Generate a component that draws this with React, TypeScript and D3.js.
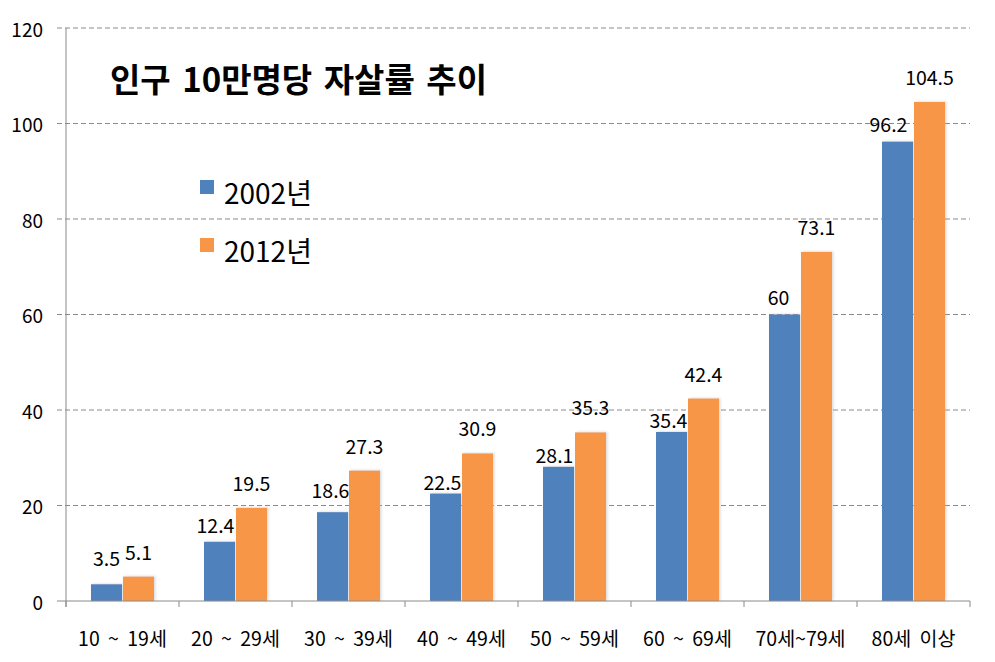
import React from "react";
import * as d3 from "d3";

const categories = ["10 ~ 19세", "20 ~ 29세", "30 ~ 39세", "40 ~ 49세", "50 ~ 59세", "60 ~ 69세", "70세~79세", "80세 이상"];
const series = ["2002년", "2012년"];
const values2002 = [3.5, 12.4, 18.6, 22.5, 28.1, 35.4, 60, 96.2];
const values2012 = [5.1, 19.5, 27.3, 30.9, 35.3, 42.4, 73.1, 104.5];
const yTicks = [0, 20, 40, 60, 80, 100, 120];
const title = "인구 10만명당 자살률 추이";

// label layout tweaks (as in the source chart, blue labels were nudged manually)
const blueLabelDx = [0, -4, -2, -3, -4, -3, -6, -9];
const blueLabelRise = [18, 9, 14, 4, 4, 4, 10, 10];
const orangeLabelRise = 17;

const W = 995;
const H = 662;
const left = 66;
const right = 970;
const top = 28;
const bottom = 601;
const colors = ["#4F81BD", "#F79646"];
const font = "'Noto Sans CJK KR', 'Noto Sans', sans-serif";

export default function App() {
  const x0 = d3.scaleBand<string>().domain(categories).range([left, right]).padding(0);
  const bw = x0.bandwidth();
  const x1 = d3
    .scaleBand<string>()
    .domain(series)
    .range([(25 / 113) * bw, (88 / 113) * bw])
    .paddingInner(0.03125)
    .paddingOuter(0);
  const y = d3.scaleLinear().domain([0, 120]).range([bottom, top]);
  const data = [values2002, values2012];

  return (
    <svg width={W} height={H} style={{ position: "absolute", left: 0, top: 0, background: "#fff" }} fontFamily={font}>
      <defs>
        <filter id="sh" x="-20%" y="-20%" width="140%" height="140%">
          <feDropShadow dx="1.5" dy="-0.5" stdDeviation="1" floodColor="#b0b0b0" floodOpacity="0.45" />
        </filter>
      </defs>
      {/* gridlines */}
      {yTicks.filter((t) => t > 0).map((t) => (
        <line key={t} x1={57} x2={right} y1={y(t)} y2={y(t)} stroke="#8a8a8a" strokeWidth={1} strokeDasharray="5,3" />
      ))}
      {/* y tick labels */}
      {yTicks.map((t) => (
        <text key={"yl" + t} x={43} y={y(t)} textAnchor="end" dominantBaseline="central" fontSize={19} fill="#000">
          {t}
        </text>
      ))}
      {/* bars */}
      {categories.map((c, i) => (
        <g key={c}>
          {series.map((s, j) => {
            const v = data[j][i];
            return (
              <rect
                key={s}
                x={(x0(c) as number) + (x1(s) as number)}
                y={y(v)}
                width={x1.bandwidth()}
                height={bottom - y(v)}
                fill={colors[j]}
                filter="url(#sh)"
              />
            );
          })}
        </g>
      ))}
      {/* axes */}
      <line x1={left} x2={left} y1={top} y2={bottom + 6} stroke="#8a8a8a" strokeWidth={1} />
      <line x1={57} x2={right} y1={bottom} y2={bottom} stroke="#8a8a8a" strokeWidth={1} />
      {[...categories.map((c) => x0(c) as number), right].map((xv, k) => (
        <line key={"t" + k} x1={xv} x2={xv} y1={bottom} y2={bottom + 6} stroke="#8a8a8a" strokeWidth={1} />
      ))}
      {/* value labels */}
      {categories.map((c, i) => {
        const xb = (x0(c) as number) + (x1(series[0]) as number) + x1.bandwidth() / 2;
        const xo = (x0(c) as number) + (x1(series[1]) as number) + x1.bandwidth() / 2;
        return (
          <g key={"vl" + c} fontSize={19.5} fill="#000" textAnchor="middle">
            <text x={xb + blueLabelDx[i]} y={y(values2002[i]) - blueLabelRise[i]}>
              {values2002[i]}
            </text>
            <text x={xo} y={y(values2012[i]) - orangeLabelRise}>
              {values2012[i]}
            </text>
          </g>
        );
      })}
      {/* category labels */}
      {categories.map((c) => (
        <text key={"cl" + c} x={(x0(c) as number) + bw / 2} y={637} textAnchor="middle" dominantBaseline="central" fontSize={19.5} wordSpacing={4} fill="#000">
          {c}
        </text>
      ))}
      {/* title */}
      <text x={110} y={92} fontSize={33} fontWeight="bold" wordSpacing={4} fill="#000">
        {title}
      </text>
      {/* legend */}
      {series.map((s, j) => (
        <g key={"lg" + s}>
          <rect x={200} y={180 + j * 58} width={14} height={14} fill={colors[j]} />
          <text x={224} y={192 + j * 58} dominantBaseline="central" fontSize={28} fill="#000">
            {s}
          </text>
        </g>
      ))}
    </svg>
  );
}
